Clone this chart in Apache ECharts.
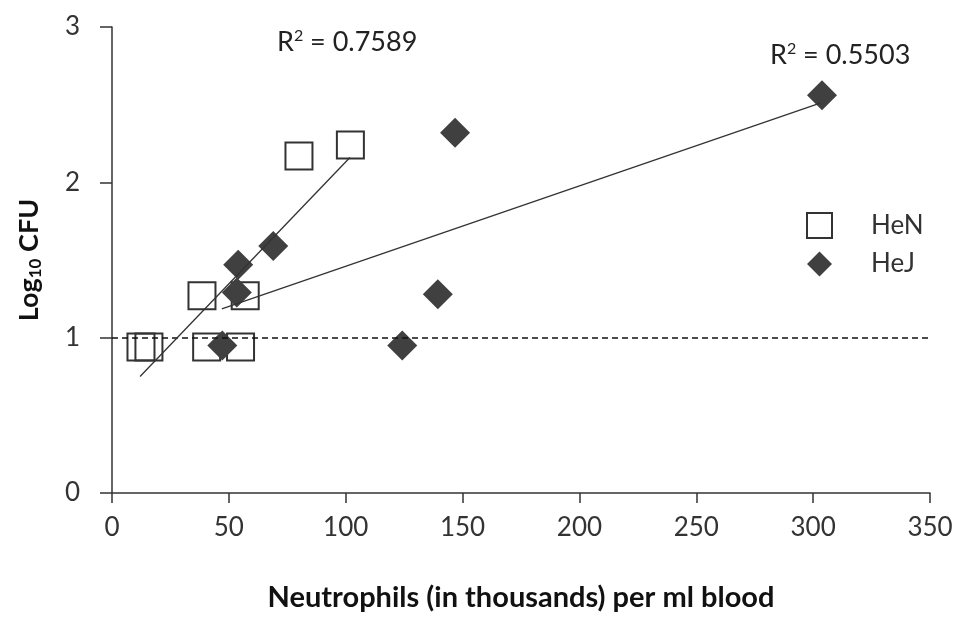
<!DOCTYPE html>
<html>
<head>
<meta charset="utf-8">
<script src="https://cdn.jsdelivr.net/npm/echarts@6/dist/echarts.min.js"></script>
<style>
  html, body { margin: 0; padding: 0; background: #fff; }
  #chart { width: 957px; height: 617px; }
</style>
</head>
<body>
<div id="chart"></div>
<script>
// HeN points (open squares)
const henX = [12.4, 15.8, 38.5, 57, 40.5, 55, 80, 102];
const henY = [0.94, 0.94, 1.27, 1.27, 0.94, 0.94, 2.17, 2.24];
// HeJ points (filled diamonds)
const hejX = [54, 69, 53.4, 47.2, 146.8, 139.4, 124.2, 303.8];
const hejY = [1.47, 1.59, 1.29, 0.95, 2.32, 1.28, 0.95, 2.56];
// trendline end points
const henTrendX = [12, 101.8];
const henTrendY = [0.75, 2.16];
const hejTrendX = [47, 303];
const hejTrendY = [1.185, 2.51];
const cutoffY = 1;
const henR2 = '0.7589';
const hejR2 = '0.5503';

const pairs = (xs, ys) => xs.map((x, i) => [x, ys[i]]);

const FONT = 'Lato';
const INK = '#333';

const chart = echarts.init(document.getElementById('chart'));

const r2Rich = {
  a: { fontSize: 27, fill: '#222', fontFamily: FONT },
  s: { fontSize: 16, fill: '#222', fontFamily: FONT, padding: [0, 0, 12, 0] }
};

const option = {
  backgroundColor: '#fff',
  animation: false,
  textStyle: { fontFamily: FONT },
  grid: { left: 112, right: 27, top: 27, bottom: 124 },
  legend: {
    orient: 'vertical',
    left: 801,
    top: 207,
    itemWidth: 25,
    itemHeight: 25,
    itemGap: 12,
    data: [
      { name: 'HeN', icon: 'rect', itemStyle: { color: '#fff', borderColor: INK, borderWidth: 2, opacity: 1 } },
      { name: 'HeJ', icon: 'diamond', itemStyle: { color: '#404040', opacity: 1 } }
    ],
    textStyle: { fontSize: 26, lineHeight: 25, color: '#333', padding: [0, 0, 0, 34], fontFamily: FONT }
  },
  xAxis: {
    type: 'value',
    min: 0,
    max: 350,
    interval: 50,
    name: 'Neutrophils (in thousands) per ml blood',
    nameLocation: 'middle',
    nameGap: 90,
    nameTextStyle: { fontSize: 29, fontWeight: 'bold', color: '#111', fontFamily: FONT },
    axisLine: { onZero: false, lineStyle: { color: INK, width: 1.5 } },
    axisTick: { inside: false, length: 10, lineStyle: { color: INK, width: 1.5 } },
    axisLabel: { fontSize: 26, color: '#333', margin: 22 },
    splitLine: { show: false }
  },
  yAxis: {
    type: 'value',
    min: 0,
    max: 3,
    interval: 1,
    name: '{b|Log}{s|10}{b| CFU}',
    nameLocation: 'middle',
    nameGap: 68,
    nameRotate: 90,
    nameTextStyle: {
      rich: {
        b: { fontSize: 27, fontWeight: 'bold', color: '#111', fontFamily: FONT },
        s: { fontSize: 17, fontWeight: 'bold', color: '#111', fontFamily: FONT, padding: [12, 0, 0, 0] }
      }
    },
    axisLine: { onZero: false, lineStyle: { color: INK, width: 1.5 } },
    axisTick: { inside: false, length: 12, lineStyle: { color: INK, width: 1.5 } },
    axisLabel: { fontSize: 26, color: '#333', margin: 32 },
    splitLine: { show: false }
  },
  graphic: [
    {
      type: 'text',
      left: 277,
      top: 28,
      style: { text: '{a|R}{s|2}{a| = ' + henR2 + '}', rich: r2Rich }
    },
    {
      type: 'text',
      left: 770,
      top: 41,
      style: { text: '{a|R}{s|2}{a| = ' + hejR2 + '}', rich: r2Rich }
    }
  ],
  series: [
    {
      name: 'cutoff',
      type: 'line',
      data: [],
      markLine: {
        silent: true,
        symbol: 'none',
        label: { show: false },
        lineStyle: { color: '#111', type: [6, 4], width: 1.5 },
        data: [{ yAxis: cutoffY }]
      }
    },
    {
      name: 'HeN',
      type: 'scatter',
      symbol: 'rect',
      symbolSize: 27,
      itemStyle: { color: 'rgba(255,255,255,0)', borderColor: INK, borderWidth: 2, opacity: 1 },
      data: pairs(henX, henY),
      z: 3
    },
    {
      name: 'HeJ',
      type: 'scatter',
      symbol: 'diamond',
      symbolSize: 30,
      itemStyle: { color: '#404040', opacity: 1 },
      data: pairs(hejX, hejY),
      z: 4
    },
    {
      name: 'HeN trend',
      type: 'line',
      symbol: 'none',
      lineStyle: { color: '#333', width: 1.3 },
      data: pairs(henTrendX, henTrendY),
      z: 5
    },
    {
      name: 'HeJ trend',
      type: 'line',
      symbol: 'none',
      lineStyle: { color: '#333', width: 1.3 },
      data: pairs(hejTrendX, hejTrendY),
      z: 5
    }
  ]
};

chart.setOption(option);
</script>
</body>
</html>
